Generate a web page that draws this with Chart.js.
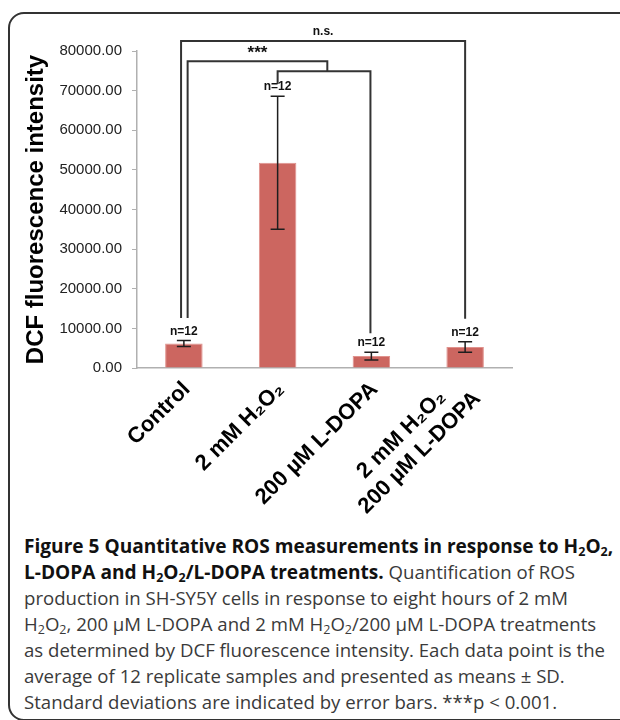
<!DOCTYPE html>
<html>
<head>
<meta charset="utf-8">
<script src="https://cdn.jsdelivr.net/npm/chart.js@4.4.0/dist/chart.umd.min.js"></script>
<style>
  body { margin: 0; background: #fff; width: 620px; height: 720px; overflow: hidden; position: relative; }
  #frame { position: absolute; left: 8px; top: 12px; width: 700px; height: 709px; box-sizing: border-box;
           border: 2px solid #333; border-radius: 16px; }
  #wrap { position: absolute; left: 0; top: 0; width: 620px; height: 530px; }
  #caption { position: absolute; left: 24px; top: 533px; font-family: "Open Sans", sans-serif; font-size: 18.6px;
             line-height: 26px; color: #3a3a3a; white-space: nowrap; }
  #caption b { color: #111; font-weight: 700; font-size: 19.1px; }
  #caption sub { font-size: 12.5px; line-height: 0; vertical-align: -3px; }
</style>
</head>
<body>
<div id="frame"></div>
<div id="wrap"><canvas id="myChart" width="620" height="530"></canvas></div>
<div id="caption">
  <b>Figure 5 Quantitative ROS measurements in response to H<sub>2</sub>O<sub>2</sub>,</b><br>
  <b>L-DOPA and H<sub>2</sub>O<sub>2</sub>/L-DOPA treatments.</b> Quantification of ROS<br>
  production in SH-SY5Y cells in response to eight hours of 2 mM<br>
  H<sub>2</sub>O<sub>2</sub>, 200 µM L-DOPA and 2 mM H<sub>2</sub>O<sub>2</sub>/200 µM L-DOPA treatments<br>
  as determined by DCF fluorescence intensity. Each data point is the<br>
  average of 12 replicate samples and presented as means ± SD.<br>
  Standard deviations are indicated by error bars. ***p &lt; 0.001.
</div>
<script>
// data
const categories = ["Control", "2 mM H₂O₂", "200 µM L-DOPA", ["2 mM H₂O₂", "200 µM L-DOPA"]];
const meanValues = [6200, 51800, 3000, 5300];
const sdValues = [750, 16800, 1000, 1300];
const sampleSizes = [12, 12, 12, 12];
const yTicks = [0, 10000, 20000, 30000, 40000, 50000, 60000, 70000, 80000];

// significance brackets: [left category pos, right category pos, top value, left foot, right foot, label]
const brackets = [
  [-0.03, 3.0, 82500, 12600, 12400, "n.s."],
  [0.04, 1.53, 77400, 12600, 74900, "***"],
  [1.0, 1.99, 74900, 71700, 8800, ""],
];

const fontFamily = "Arial, 'Liberation Sans', sans-serif";

const errorBars = {
  id: "errorBars",
  afterDatasetsDraw(chart) {
    const ctx = chart.ctx;
    const x = chart.scales.x;
    const y = chart.scales.y;
    ctx.save();
    ctx.strokeStyle = "#1e1e1e";
    ctx.lineWidth = 1.5;
    ctx.fillStyle = "#111";
    ctx.font = "bold 12px " + fontFamily;
    ctx.textAlign = "center";
    ctx.textBaseline = "bottom";
    meanValues.forEach(function (m, i) {
      const px = x.getPixelForValue(i);
      const top = y.getPixelForValue(m + sdValues[i]);
      const bot = y.getPixelForValue(m - sdValues[i]);
      ctx.beginPath();
      ctx.moveTo(px, top);
      ctx.lineTo(px, bot);
      ctx.moveTo(px - 7, top);
      ctx.lineTo(px + 7, top);
      ctx.moveTo(px - 7, bot);
      ctx.lineTo(px + 7, bot);
      ctx.stroke();
      ctx.fillText("n=" + sampleSizes[i], px, top - 3);
    });
    ctx.restore();
  },
};

const sigBrackets = {
  id: "sigBrackets",
  afterDraw(chart) {
    const ctx = chart.ctx;
    const x = chart.scales.x;
    const y = chart.scales.y;
    ctx.save();
    ctx.strokeStyle = "#333";
    ctx.lineWidth = 2;
    ctx.fillStyle = "#111";
    ctx.textAlign = "center";
    ctx.textBaseline = "bottom";
    brackets.forEach(function (b) {
      const x1 = x.getPixelForValue(b[0]);
      const x2 = x.getPixelForValue(b[1]);
      const yt = y.getPixelForValue(b[2]);
      ctx.beginPath();
      ctx.moveTo(x1, y.getPixelForValue(b[3]));
      ctx.lineTo(x1, yt);
      ctx.lineTo(x2, yt);
      ctx.lineTo(x2, y.getPixelForValue(b[4]));
      ctx.stroke();
      if (b[5] === "***") {
        ctx.font = "bold 17px " + fontFamily;
        ctx.fillText(b[5], (x1 + x2) / 2, yt + 1);
      } else if (b[5]) {
        ctx.font = "bold 12px " + fontFamily;
        ctx.fillText(b[5], (x1 + x2) / 2, yt - 3);
      }
    });
    ctx.restore();
  },
};

// rotated category labels, multi-line ones centred like the original
const xLabels = {
  id: "xLabels",
  afterDraw(chart) {
    const ctx = chart.ctx;
    const x = chart.scales.x;
    const axisY = chart.chartArea.bottom;
    const lh = 26;
    ctx.save();
    ctx.font = "bold 22px " + fontFamily;
    ctx.fillStyle = "#000";
    ctx.textAlign = "center";
    ctx.textBaseline = "middle";
    categories.forEach(function (lab, i) {
      const lines = [].concat(lab);
      const w = Math.max.apply(null, lines.map(function (l) { return ctx.measureText(l).width; }));
      ctx.save();
      ctx.translate(x.getPixelForValue(i) + 3, axisY + 18);
      ctx.rotate(-Math.PI / 4);
      lines.forEach(function (l, k) {
        ctx.fillText(l, -w / 2, (k - (lines.length - 1) / 2) * lh);
      });
      ctx.restore();
    });
    ctx.restore();
  },
};

const ctx = document.getElementById("myChart");
new Chart(ctx, {
  type: "bar",
  data: {
    labels: categories,
    datasets: [
      {
        label: "",
        data: meanValues,
        backgroundColor: "#cc6660",
        borderColor: "#e0928d",
        borderWidth: 1,
        barPercentage: 0.8,
        categoryPercentage: 0.5,
      },
    ],
  },
  options: {
    responsive: false,
    animation: false,
    layout: { padding: { top: 51, right: 108, left: 0, bottom: 0 } },
    plugins: {
      legend: { display: false },
      tooltip: { enabled: false },
    },
    scales: {
      x: {
        afterFit: function (s) { s.height = 162; },
        grid: { display: false, drawTicks: false },
        border: { display: true, color: "#b0b0b0", width: 1.5 },
        ticks: { display: false },
      },
      y: {
        min: 0,
        max: 80000,
        afterFit: function (s) { s.width = 137; },
        afterBuildTicks: function (s) { s.ticks = yTicks.map(function (v) { return { value: v }; }); },
        grid: { drawOnChartArea: false, tickLength: 5, color: "#b0b0b0" },
        border: { display: true, color: "#b0b0b0", width: 1.5 },
        ticks: {
          padding: 10,
          color: "#222",
          font: { family: fontFamily, size: 15 },
          callback: function (v) { return Number(v).toFixed(2); },
        },
        title: {
          display: true,
          text: "DCF fluorescence intensity",
          color: "#000",
          padding: { top: 22 },
          font: { family: fontFamily, size: 24, weight: "bold" },
        },
      },
    },
  },
  plugins: [errorBars, sigBrackets, xLabels],
});
</script>
</body>
</html>
